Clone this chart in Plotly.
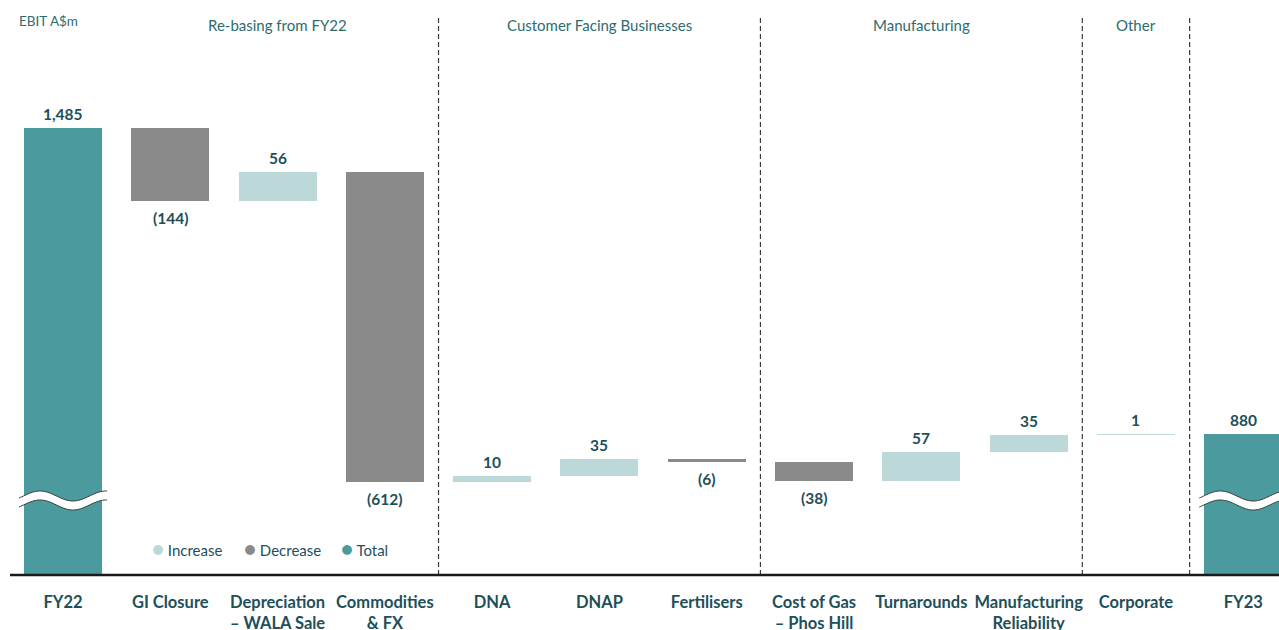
import numpy as np
import plotly.graph_objects as go

# --- data -------------------------------------------------------------
categories = [
    "FY22", "GI Closure", "Depreciation<br>– WALA Sale", "Commodities<br>& FX",
    "DNA", "DNAP", "Fertilisers", "Cost of Gas<br>– Phos Hill",
    "Turnarounds", "Manufacturing<br>Reliability", "Corporate", "FY23",
]
start_total = 1485
changes = [-144, 56, -612, 10, 35, -6, -38, 57, 35, 1]
end_total = 880

groups = ["Re-basing from FY22", "Customer Facing Businesses", "Manufacturing", "Other"]
group_centers = [2, 5, 8, 10]
dividers = [3.5, 6.5, 9.5, 10.5]

C_TOTAL = "#4a9a9e"
C_DEC = "#898a89"
C_INC = "#bcd8d8"
C_TEXT = "#1e4f5a"
C_HEAD = "#2e6b70"
FONT = "Lato"

Y_MIN, Y_MAX = 600, 1738

# --- build bars -------------------------------------------------------
x = np.arange(len(categories))
bases, heights, colors, labels, label_y, label_up = [], [], [], [], [], []

bases.append(0); heights.append(start_total); colors.append(C_TOTAL)
labels.append(f"{start_total:,}"); label_y.append(start_total); label_up.append(True)

level = start_total
for ch in changes:
    lo, hi = min(level, level + ch), max(level, level + ch)
    bases.append(lo); heights.append(hi - lo)
    if ch >= 0:
        colors.append(C_INC); labels.append(f"{ch}"); label_y.append(hi); label_up.append(True)
    else:
        colors.append(C_DEC); labels.append(f"({-ch})"); label_y.append(lo); label_up.append(False)
    level += ch

bases.append(0); heights.append(end_total); colors.append(C_TOTAL)
labels.append(f"{end_total:,}"); label_y.append(end_total); label_up.append(True)

fig = go.Figure()
fig.add_bar(x=x, y=heights, base=bases, marker=dict(color=colors, line=dict(width=0)),
            width=0.727, showlegend=False, hoverinfo="skip")

for xi, yv, txt, up in zip(x, label_y, labels, label_up):
    fig.add_annotation(x=xi, y=yv, text=txt, showarrow=False,
                       yanchor="bottom" if up else "top", yshift=3 if up else -6,
                       font=dict(family=FONT, size=15.5, color=C_TEXT, weight="bold"))

# --- axis-break waves on the total bars ------------------------------
PX_X = 1279 / (11.333 + 0.587)
PX_Y = 575 / (Y_MAX - Y_MIN)


def wave(cx, y_top_px, thick=9):
    xs = np.linspace(-44, 44, 60)
    top = y_top_px - 5 * np.sin(2 * np.pi * (xs + 39.5) / 66)
    pts_top = [(cx + xv / PX_X, Y_MIN + (575 - yv) / PX_Y) for xv, yv in zip(xs, top)]
    pts_bot = [(cx + xv / PX_X, Y_MIN + (575 - yv - thick) / PX_Y) for xv, yv in zip(xs, top)]
    fill = "M " + " L ".join(f"{a},{b}" for a, b in pts_top + pts_bot[::-1]) + " Z"
    edge1 = "M " + " L ".join(f"{a},{b}" for a, b in pts_top)
    edge2 = "M " + " L ".join(f"{a},{b}" for a, b in pts_bot)
    fig.add_shape(type="path", path=fill, fillcolor="white", line=dict(width=0), layer="above")
    for e in (edge1, edge2):
        fig.add_shape(type="path", path=e, line=dict(color="#3a3a3a", width=1), layer="above")


wave(0, 496)
wave(11, 496)

# --- dividers, axis line ----------------------------------------------
for d in dividers:
    fig.add_shape(type="line", x0=d, x1=d, xref="x", y0=0, y1=1 - 16 / 575, yref="paper",
                  line=dict(color="#3a3a3a", width=1.2, dash="5px,3px"))
fig.add_shape(type="line", x0=10 / 1279, x1=1, xref="paper", y0=0, y1=0, yref="paper",
              line=dict(color="#1a1a1a", width=2.5))

for g, c in zip(groups, group_centers):
    fig.add_annotation(x=c, y=1 - 25 / 575, xref="x", yref="paper", text=g, showarrow=False,
                       font=dict(family=FONT, size=15, color=C_HEAD), yanchor="middle")
fig.add_annotation(x=17 / 1279, y=1 - 21 / 575, xref="paper", yref="paper", text="EBIT A$m",
                   showarrow=False, xanchor="left", yanchor="middle",
                   font=dict(family=FONT, size=13.5, color=C_HEAD))

legend_items = [("Increase", C_INC, 150), ("Decrease", C_DEC, 242), ("Total", C_TOTAL, 339)]
for name, col, px in legend_items:
    fig.add_annotation(x=px / 1279, y=1 - 548 / 575, xref="paper", yref="paper",
                       text=f'<span style="color:{col}; font-size:20px">●</span> {name}',
                       showarrow=False, xanchor="left", yanchor="middle",
                       font=dict(family=FONT, size=15, color=C_TEXT))

fig.update_layout(
    width=1279, height=630,
    margin=dict(l=0, r=0, t=0, b=55, autoexpand=False),
    plot_bgcolor="white", paper_bgcolor="white",
    bargap=0,
    xaxis=dict(range=[-0.587, 11.333], tickvals=x, ticktext=categories, showgrid=False,
               zeroline=False, showline=False, ticks="", ticklabelstandoff=15, automargin=False,
               tickfont=dict(family=FONT, size=16.5, color=C_TEXT, weight="bold")),
    yaxis=dict(range=[Y_MIN, Y_MAX], visible=False, showgrid=False, zeroline=False,
               automargin=False),
)

# drop the browser's default body margin so the 1279x630 figure fills the window
fig.write_html("out.html", config={"displayModeBar": False},
               post_script="document.body.style.margin='0';")
